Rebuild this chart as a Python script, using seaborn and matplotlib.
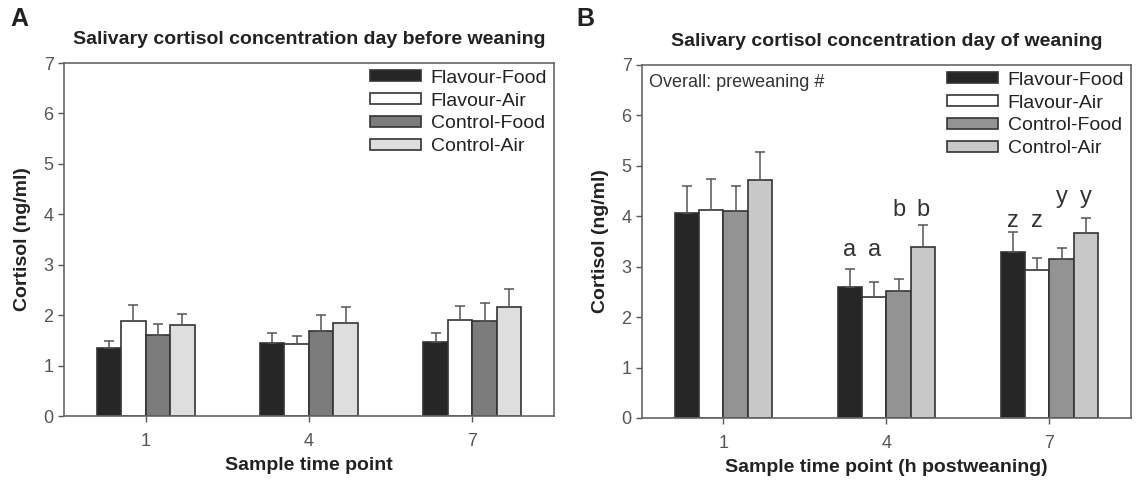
import numpy as np
import pandas as pd
import matplotlib
matplotlib.use('Agg')
import matplotlib.pyplot as plt
import seaborn as sns

sns.set_style('white')
plt.rcParams['font.family'] = ['Liberation Sans', 'DejaVu Sans']
plt.rcParams['text.color'] = '#222222'
plt.rcParams['axes.labelcolor'] = '#222222'
plt.rcParams['xtick.color'] = '#555555'
plt.rcParams['ytick.color'] = '#555555'

# ---- data ----
time_points = ['1', '4', '7']
groups = ['Flavour-Food', 'Flavour-Air', 'Control-Food', 'Control-Air']

# day before weaning (panel A): mean per group, one value per time point
a_means = {
    'Flavour-Food': [1.35, 1.45, 1.47],
    'Flavour-Air':  [1.88, 1.42, 1.90],
    'Control-Food': [1.60, 1.68, 1.88],
    'Control-Air':  [1.80, 1.85, 2.17],
}
a_sem = {
    'Flavour-Food': [0.13, 0.20, 0.17],
    'Flavour-Air':  [0.32, 0.16, 0.28],
    'Control-Food': [0.23, 0.32, 0.37],
    'Control-Air':  [0.22, 0.31, 0.35],
}

# day of weaning (panel B)
b_means = {
    'Flavour-Food': [4.07, 2.60, 3.30],
    'Flavour-Air':  [4.13, 2.40, 2.93],
    'Control-Food': [4.10, 2.52, 3.15],
    'Control-Air':  [4.72, 3.40, 3.67],
}
b_sem = {
    'Flavour-Food': [0.53, 0.35, 0.38],
    'Flavour-Air':  [0.60, 0.30, 0.24],
    'Control-Food': [0.50, 0.24, 0.22],
    'Control-Air':  [0.55, 0.42, 0.30],
}

# significance letters in panel B (time point, group, letter, height)
sig_time = ['4', '4', '4', '4', '7', '7', '7', '7']
sig_group = ['Flavour-Food', 'Flavour-Air', 'Control-Food', 'Control-Air'] * 2
sig_letter = ['a', 'a', 'b', 'b', 'z', 'z', 'y', 'y']
sig_y = [3.33, 3.33, 4.13, 4.13, 3.90, 3.90, 4.38, 4.38]

pal_a = ['#262626', '#ffffff', '#7c7c7c', '#dedede']
pal_b = ['#262626', '#ffffff', '#939393', '#c8c8c8']


def to_frame(means):
    rows = []
    for g in groups:
        for t, v in zip(time_points, means[g]):
            rows.append({'time': t, 'group': g, 'cortisol': v})
    return pd.DataFrame(rows)


def draw_panel(ax, means, sem, palette, title, xlabel):
    df = to_frame(means)
    sns.barplot(data=df, x='time', y='cortisol', hue='group', order=time_points,
                hue_order=groups, palette=palette, width=0.6, errorbar=None,
                edgecolor='#333333', linewidth=1.2, ax=ax)
    # upward-only error bars at bar centres
    for g, cont in zip(groups, ax.containers):
        xs = [b.get_x() + b.get_width() / 2 for b in cont]
        hs = [b.get_height() for b in cont]
        ax.errorbar(xs, hs, yerr=[np.zeros(len(hs)), sem[g]], fmt='none',
                    ecolor='#555555', elinewidth=1.1, capsize=3.5, capthick=1.1,
                    zorder=1)
    ax.set_ylim(0, 7)
    ax.set_xlim(-0.5, 2.5)
    ax.set_yticks(range(8))
    ax.tick_params(axis='both', labelsize=13, direction='out', length=4, width=1,
                   left=True, bottom=True)
    ax.tick_params(axis='x', pad=8)
    for s in ax.spines.values():
        s.set_color('#666666')
        s.set_linewidth(1.2)
    ax.set_title(title, fontsize=14, fontweight='bold', pad=14)
    ax.set_xlabel(xlabel, fontsize=14, fontweight='bold', labelpad=5)
    ax.set_ylabel('Cortisol (ng/ml)', fontsize=14, fontweight='bold', labelpad=9)
    h, l = ax.get_legend_handles_labels()
    ax.legend(h, l, loc='upper right', bbox_to_anchor=(1.0, 1.0), frameon=False,
              fontsize=14, handlelength=2.6, handleheight=0.5, labelspacing=0.3,
              handletextpad=0.5, borderpad=0.3, borderaxespad=0.05)
    return ax


fig = plt.figure(figsize=(11.37, 4.9), dpi=100)
axA = fig.add_axes([0.0563, 0.151, 0.4309, 0.7204])
axB = fig.add_axes([0.5646, 0.147, 0.4301, 0.7204])

draw_panel(axA, a_means, a_sem, pal_a,
           'Salivary cortisol concentration day before weaning', 'Sample time point')
draw_panel(axB, b_means, b_sem, pal_b,
           'Salivary cortisol concentration day of weaning',
           'Sample time point (h postweaning)')

# letters above bars in panel B
for t, g, s, y in zip(sig_time, sig_group, sig_letter, sig_y):
    cont = axB.containers[groups.index(g)]
    bar = cont[time_points.index(t)]
    axB.text(bar.get_x() + bar.get_width() / 2, y, s, ha='center', va='center',
             fontsize=17, color='#333333')

axB.text(0.015, 0.95, 'Overall: preweaning #', transform=axB.transAxes,
         ha='left', va='center', fontsize=13, color='#333333')

fig.text(0.009, 0.962, 'A', fontsize=18, fontweight='bold', va='center')
fig.text(0.507, 0.962, 'B', fontsize=18, fontweight='bold', va='center')

fig.savefig('out.png', dpi=100)
